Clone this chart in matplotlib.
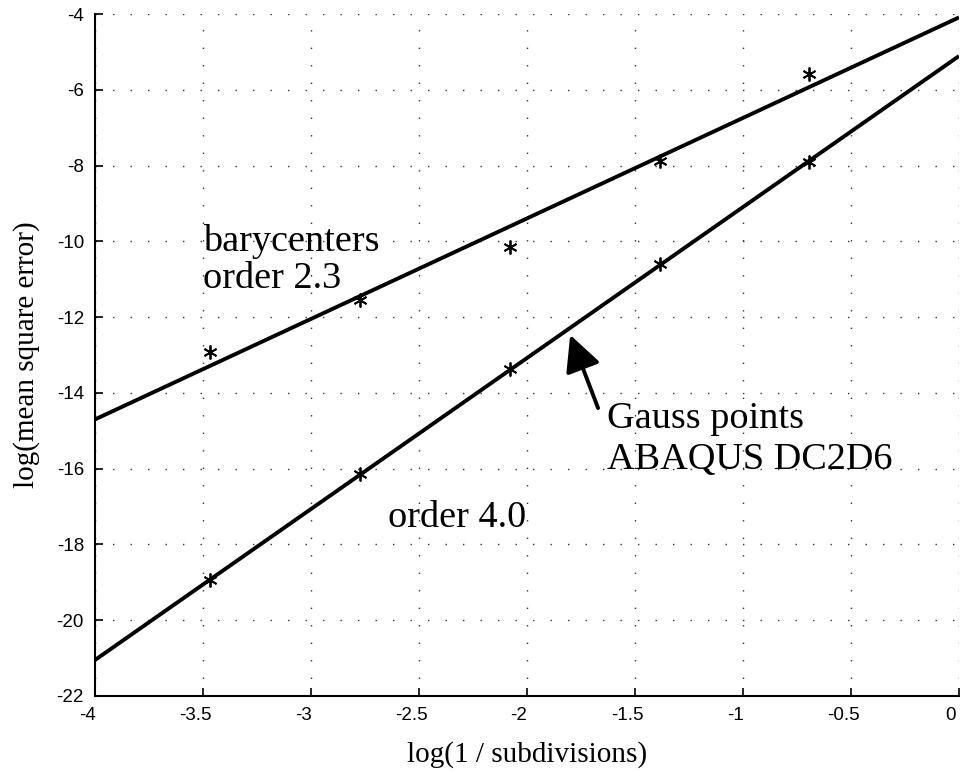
import matplotlib
matplotlib.use("Agg")
import matplotlib.pyplot as plt
from matplotlib.transforms import ScaledTranslation

# log(1/subdivisions) for 2, 4, 8, 16, 32 subdivisions
log_h = [-3.466, -2.773, -2.079, -1.386, -0.693]
err_bary = [-12.93, -11.56, -10.15, -7.88, -5.59]
err_gauss = [-18.93, -16.15, -13.38, -10.60, -7.90]

# fitted lines, read at the ends of the axis
fit_x = [-4.0, 0.0]
fit_bary = [-14.70, -4.09]
fit_gauss = [-21.05, -5.11]

xticks = [-4, -3.5, -3, -2.5, -2, -1.5, -1, -0.5, 0]
xtick_labels = ["-4", "-3.5", "-3", "-2.5", "-2", "-1.5", "-1", "-0.5", "0"]
yticks = [-22, -20, -18, -16, -14, -12, -10, -8, -6, -4]
ytick_labels = [str(v) for v in yticks]

serif = "Liberation Serif"
sans = "Liberation Sans"

fig = plt.figure(figsize=(9.6, 7.73), dpi=100)
ax = fig.add_axes([95 / 960, 77 / 773, 864 / 960, 682 / 773])

ax.plot(fit_x, fit_bary, color="black", lw=2.8, solid_capstyle="butt", zorder=3)
ax.plot(fit_x, fit_gauss, color="black", lw=2.8, solid_capstyle="butt", zorder=3)
ax.plot(log_h, err_bary, ls="none", marker=(6, 2, 0), ms=10, mew=1.3,
        color="black", zorder=4)
ax.plot(log_h, err_gauss, ls="none", marker=(6, 2, 0), ms=10, mew=1.3,
        color="black", zorder=4)

ax.set_xlim(-4, 0)
ax.set_ylim(-22, -4)
ax.set_xticks(xticks)
ax.set_xticklabels(xtick_labels, fontfamily=sans, fontsize=13.5)
ax.set_yticks(yticks)
ax.set_yticklabels(ytick_labels, fontfamily=sans, fontsize=13.5)
ax.tick_params(direction="in", length=6, width=1.2, pad=8)

shift = ScaledTranslation(-8 / 100, 0, fig.dpi_scale_trans)
for lab in ax.get_xticklabels():
    lab.set_transform(lab.get_transform() + shift)

ax.grid(True, color="0.2", lw=1.0, linestyle=(0, (1, 11.6)), zorder=1)
ax.set_axisbelow(True)

for side in ["top", "right"]:
    ax.spines[side].set_visible(False)
for side in ["left", "bottom"]:
    ax.spines[side].set_linewidth(1.5)

ax.set_xlabel("log(1 / subdivisions)", fontfamily=serif, fontsize=21, labelpad=12)
ax.set_ylabel("log(mean square error)", fontfamily=serif, fontsize=21, labelpad=12)

ax.text(-3.5, -10.25, "barycenters", fontfamily=serif, fontsize=27.5, va="baseline")
ax.text(-3.5, -11.23, "order 2.3", fontfamily=serif, fontsize=27.5, va="baseline")
ax.text(-2.644, -17.54, "order 4.0", fontfamily=serif, fontsize=27.5, va="baseline")
ax.text(-1.63, -14.92, "Gauss points", fontfamily=serif, fontsize=27.5, va="baseline")
ax.text(-1.63, -16.0, "ABAQUS DC2D6", fontfamily=serif, fontsize=27.5, va="baseline")

ax.annotate("", xy=(-1.80, -12.47), xytext=(-1.671, -14.40),
            arrowprops=dict(arrowstyle="-|>,head_length=2.2,head_width=1.1",
                            color="black", lw=2.8, shrinkA=0, shrinkB=0),
            zorder=5)

fig.savefig("out.png", dpi=100)
